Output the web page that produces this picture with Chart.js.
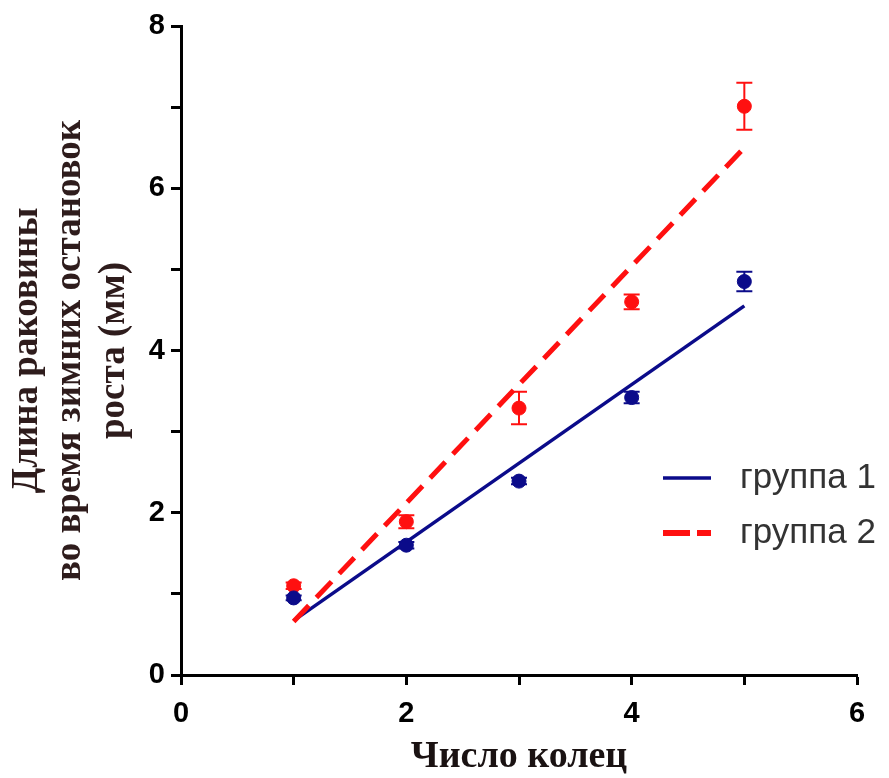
<!DOCTYPE html>
<html>
<head>
<meta charset="utf-8">
<script src="https://cdn.jsdelivr.net/npm/chart.js@4.4.1/dist/chart.umd.min.js"></script>
<style>
  html, body { margin: 0; padding: 0; background: #fff; }
  #wrap { width: 889px; height: 778px; position: relative; }
</style>
</head>
<body>
<div id="wrap"><canvas id="chart"></canvas></div>
<script>
// --- data ---
const rings = [1, 2, 3, 4, 5];
const group1 = [0.95, 1.60, 2.39, 3.42, 4.85];
const group1Err = [0.03, 0.04, 0.04, 0.07, 0.12];
const group2 = [1.10, 1.89, 3.29, 4.60, 7.01];
const group2Err = [0.04, 0.08, 0.20, 0.09, 0.29];
// regression lines (ends at x = 1 and x = 5)
const fitX = [1, 5];
const fit1 = [0.67, 4.55];
const fit2 = [0.66, 6.50];
const seriesNames = ['группа 1', 'группа 2'];

const NAVY = '#0b0b8a';
const RED = '#ff1010';

const pts = (xs, ys) => xs.map((x, i) => ({ x: x, y: ys[i] }));

// error bars drawn through the chart scales
const errorBars = {
  id: 'errorBars',
  beforeDatasetsDraw(chart) {
    const { ctx, scales: { x, y } } = chart;
    const sets = [[group1, group1Err, NAVY], [group2, group2Err, RED]];
    ctx.save();
    ctx.lineWidth = 2;
    for (const [vals, errs, col] of sets) {
      ctx.strokeStyle = col;
      rings.forEach((r, i) => {
        const px = x.getPixelForValue(r);
        const top = y.getPixelForValue(vals[i] + errs[i]);
        const bot = y.getPixelForValue(vals[i] - errs[i]);
        ctx.beginPath();
        ctx.moveTo(px, top); ctx.lineTo(px, bot);
        ctx.moveTo(px - 8, top); ctx.lineTo(px + 8, top);
        ctx.moveTo(px - 8, bot); ctx.lineTo(px + 8, bot);
        ctx.stroke();
      });
    }
    ctx.restore();
  }
};

// legend inside the plot, lower right
const innerLegend = {
  id: 'innerLegend',
  afterDraw(chart) {
    const { ctx, chartArea } = chart;
    const x0 = chartArea.right - 194;
    const rows = [
      { y: chartArea.top + 452, col: NAVY, dash: [], w: 3.5 },
      { y: chartArea.top + 507, col: RED, dash: [27, 7], w: 6 },
    ];
    ctx.save();
    rows.forEach((r, i) => {
      ctx.strokeStyle = r.col;
      ctx.lineWidth = r.w;
      ctx.setLineDash(r.dash);
      ctx.beginPath();
      ctx.moveTo(x0, r.y); ctx.lineTo(x0 + 48, r.y);
      ctx.stroke();
      ctx.setLineDash([]);
      ctx.fillStyle = '#333';
      ctx.font = '35px "Liberation Sans", Arial, sans-serif';
      ctx.textBaseline = 'middle';
      ctx.textAlign = 'left';
      ctx.fillText(seriesNames[i], x0 + 77, r.y);
    });
    ctx.restore();
  }
};

const axisGrid = {
  display: true,
  drawOnChartArea: false,
  drawTicks: true,
  tickLength: 10,
  tickWidth: 3,
  tickColor: '#000'
};

new Chart(document.getElementById('chart'), {
  type: 'scatter',
  data: {
    datasets: [
      { label: seriesNames[0], data: pts(rings, group1), backgroundColor: NAVY, borderColor: NAVY,
        pointRadius: 7, pointHoverRadius: 7, showLine: false },
      { label: seriesNames[1], data: pts(rings, group2), backgroundColor: RED, borderColor: RED,
        pointRadius: 7, pointHoverRadius: 7, showLine: false },
      { label: 'fit2', type: 'line', data: pts(fitX, fit2), borderColor: RED, borderWidth: 5,
        borderDash: [22, 11], pointRadius: 0, fill: false },
      { label: 'fit1', type: 'line', data: pts(fitX, fit1), borderColor: NAVY, borderWidth: 3.5,
        pointRadius: 0, fill: false },
    ]
  },
  options: {
    responsive: true,
    maintainAspectRatio: false,
    animation: false,
    layout: { padding: { top: 26, right: 32, left: 0, bottom: 0 } },
    plugins: { legend: { display: false }, tooltip: { enabled: false } },
    scales: {
      x: {
        type: 'linear', min: 0, max: 6,
        afterFit: s => { s.height = 103; },
        ticks: {
          stepSize: 1, autoSkip: false, maxRotation: 0, padding: 12, color: '#000',
          font: { family: '"Liberation Sans", Arial, sans-serif', size: 29, weight: 'bold' },
          callback: v => (v % 2 === 0 ? String(v) : '')
        },
        grid: axisGrid,
        border: { display: true, color: '#000', width: 3 },
        title: {
          display: true, text: 'Число колец', color: '#1a1212',
          font: { family: '"Liberation Serif", "Times New Roman", serif', size: 38, weight: 'bold', lineHeight: 1.1 },
          padding: { top: 0, bottom: 0 }
        }
      },
      y: {
        type: 'linear', min: 0, max: 8,
        afterFit: s => { s.width = 181; },
        ticks: {
          stepSize: 1, autoSkip: false, padding: 6, color: '#000',
          font: { family: '"Liberation Sans", Arial, sans-serif', size: 29, weight: 'bold' },
          callback: v => (v % 2 === 0 ? String(v) : '')
        },
        grid: axisGrid,
        border: { display: true, color: '#000', width: 3 },
        title: {
          display: true,
          text: ['Длина раковины', 'во время зимних остановок', 'роста (мм)'],
          color: '#2e1c1c',
          font: { family: '"Liberation Serif", "Times New Roman", serif', size: 37, weight: 'bold', lineHeight: 1.17 },
          padding: { top: 6, bottom: 0 }
        }
      }
    }
  },
  plugins: [errorBars, innerLegend]
});
</script>
</body>
</html>
